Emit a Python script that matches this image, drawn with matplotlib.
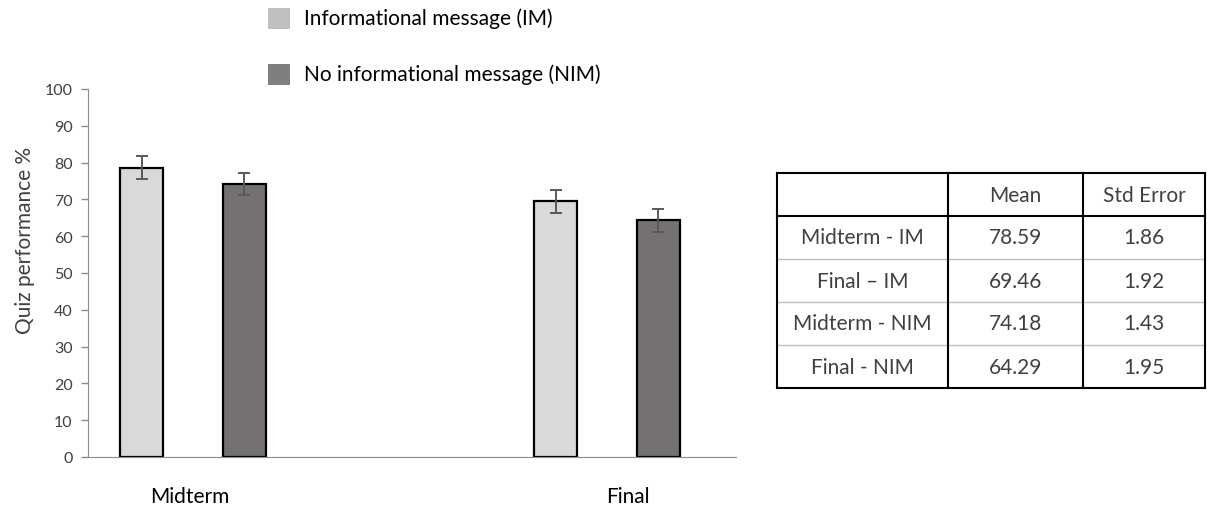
import numpy as np
import matplotlib.pyplot as plt
from matplotlib.patches import Rectangle

plt.rcParams['font.family'] = ['Lato', 'DejaVu Sans']

# quiz scores by exam and message condition
exams = ['Midterm', 'Final']
im_means = [78.59, 69.46]
nim_means = [74.18, 64.29]
im_err = [3.07, 3.07]
nim_err = [3.07, 3.07]

# summary table
row_labels = ['Midterm - IM', 'Final \u2013 IM', 'Midterm - NIM', 'Final - NIM']
col_labels = ['Mean', 'Std Error']
table_means = ['78.59', '69.46', '74.18', '64.29']
table_se = ['1.86', '1.92', '1.43', '1.95']

legend_labels = ['Informational message (IM)', 'No informational message (NIM)']

im_color = '#d9d9d9'
nim_color = '#767171'
text_color = '#404040'
axis_color = '#8c8c8c'

fig = plt.figure(figsize=(12.07, 5.06), dpi=100)
ax = fig.add_axes([88 / 1207, 1 - 458 / 506, (736 - 88) / 1207, (458 - 90) / 506])

x = np.arange(len(exams))
w = 0.104
off = 0.124
ax.bar(x - off, im_means, w, color=im_color, edgecolor='black', linewidth=1.6, zorder=2)
ax.bar(x + off, nim_means, w, color=nim_color, edgecolor='black', linewidth=1.6, zorder=2)
ax.errorbar(x - off, im_means, yerr=im_err, fmt='none', ecolor='#595959',
            elinewidth=1.4, capsize=4, capthick=1.4, zorder=3)
ax.errorbar(x + off, nim_means, yerr=nim_err, fmt='none', ecolor='#595959',
            elinewidth=1.4, capsize=4, capthick=1.4, zorder=3)

ax.set_xlim(-0.254, 1.312)
ax.set_ylim(0, 100)
ax.set_yticks(range(0, 101, 10))
ax.set_xticks([])
ax.tick_params(axis='y', direction='out', length=5, width=1, color=axis_color,
               labelsize=11.5, labelcolor=text_color, pad=6)
for s in ['top', 'right']:
    ax.spines[s].set_visible(False)
ax.spines['left'].set_color(axis_color)
ax.spines['bottom'].set_color(axis_color)
ax.set_ylabel('Quiz performance %', fontsize=15, color=text_color)
ax.yaxis.set_label_coords(-0.082, 0.59)

# group labels under the axis
for xi, name in zip([-0.007, 1.05], exams):
    ax.text(xi, -10.5, name, ha='center', va='center', fontsize=15, color='black')

# overlay in pixel coordinates for legend and table
ov = fig.add_axes([0, 0, 1, 1], facecolor='none')
ov.set_xlim(0, 1207)
ov.set_ylim(506, 0)
ov.axis('off')

for (yc, lab, col) in zip([19, 75], legend_labels, ['#bfbfbf', '#7f7f7f']):
    ov.add_patch(Rectangle((268, yc - 10), 22, 21, color=col, lw=0))
    ov.text(304, yc, lab, ha='left', va='center', fontsize=15, color='black')

cols = [777, 948, 1083, 1205]
rows = [174, 217, 260, 303, 346, 389]
# row separators
for i, yy in enumerate(rows):
    if i in (0, 1, len(rows) - 1):
        ov.plot([cols[0], cols[-1]], [yy, yy], color='black', lw=1.5)
    else:
        ov.plot([cols[0], cols[-1]], [yy, yy], color='#bfbfbf', lw=1)
for xx in cols:
    ov.plot([xx, xx], [rows[0], rows[-1]], color='black', lw=1.5)

for j, lab in enumerate(col_labels):
    ov.text((cols[j + 1] + cols[j + 2]) / 2, (rows[0] + rows[1]) / 2, lab,
            ha='center', va='center', fontsize=15, color=text_color)
for i in range(len(row_labels)):
    yc = (rows[i + 1] + rows[i + 2]) / 2
    vals = [row_labels[i], table_means[i], table_se[i]]
    for j, v in enumerate(vals):
        ov.text((cols[j] + cols[j + 1]) / 2, yc, v, ha='center', va='center',
                fontsize=15, color=text_color)

fig.savefig('out.png', dpi=100)
